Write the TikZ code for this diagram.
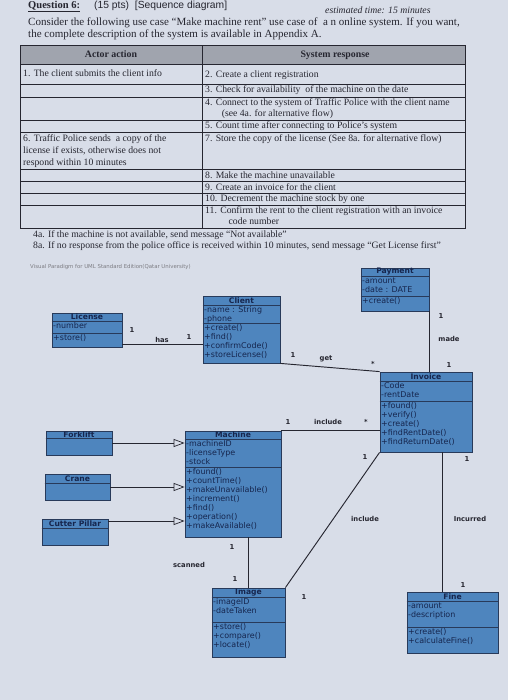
\documentclass[tikz,border=0pt]{standalone}
\usepackage{fontspec}
\setmainfont{Liberation Serif}
\newfontfamily\umlfont{DejaVu Sans}
\newfontfamily\headsans{Liberation Sans}
\usetikzlibrary{arrows.meta,fit,calc}

\definecolor{PaperColor}{RGB}{216,221,232}
\definecolor{HeadGray}{RGB}{160,164,174}
\definecolor{ClassFill}{RGB}{78,133,190}
\definecolor{ClassEdge}{RGB}{40,58,90}
\definecolor{ClassInk}{RGB}{22,38,78}
\definecolor{InkGray}{RGB}{38,38,48}

\tikzset{
  classbox/.style={draw=ClassEdge, fill=ClassFill, line width=0.7pt, inner sep=0pt},
  classline/.style={draw=ClassEdge, line width=0.6pt},
  classtitle/.style={font=\umlfont\bfseries\fontsize{6.5}{7}\selectfont, text=ClassInk, inner sep=0pt},
  classtext/.style={font=\umlfont\fontsize{6.8}{7.6}\selectfont, text=ClassInk, align=left, inner sep=1.2pt},
  assoc/.style={draw=InkGray, line width=0.8pt},
  genarrow/.style={draw=InkGray, line width=0.6pt, -{Triangle[open, length=0.33cm, width=0.24cm]}},
  assoclabel/.style={font=\umlfont\bfseries\fontsize{5.8}{6}\selectfont, text=InkGray, inner sep=0pt},
  tablerule/.style={draw=InkGray, line width=0.5pt},
  celltext/.style={font=\fontsize{8.3}{9.2}\selectfont, text=InkGray, anchor=west, inner sep=0pt},
  cellblock/.style={celltext, anchor=north west, align=left},
}

% name, corner, corner, header line, attribute line, title, attributes, operations
\newcommand{\umlclass}[8]{%
  \node[classbox, fit={(#2) (#3)}] (#1) {};
  \draw[classline] (#1.west |- 0,#4) -- (#1.east |- 0,#4);
  \draw[classline] (#1.west |- 0,#5) -- (#1.east |- 0,#5);
  \node[classtitle] (#1-t) at ($(#1.north)!0.5!(#1.north |- 0,#4)$) {#6};
  \node[classtext, anchor=north west] (#1-a) at (#1.west |- 0,#4) {#7};
  \node[classtext, anchor=north west] (#1-o) at (#1.west |- 0,#5) {#8};
}

\begin{document}
\begin{tikzpicture}[x=0.03cm, y=-0.03cm]

	% Paper

	\fill[PaperColor] (0,0) rectangle (508,700);
	\useasboundingbox (0,0) rectangle (508,700);

	% Question text

	\node[anchor=base west, font=\bfseries\fontsize{9}{10}\selectfont, text=InkGray, inner sep=0pt] (qnum) at (28,8) {\underline{Question 6:}};
	\node[anchor=base west, font=\headsans\fontsize{8.8}{10}\selectfont, text=InkGray, inner sep=0pt] (qpts) at (94,8) {(15 pts)\ \ [Sequence diagram]};
	\node[anchor=base west, font=\itshape\fontsize{8.3}{10}\selectfont, text=InkGray, inner sep=0pt] (qtime) at (325,13.5) {estimated time: 15 minutes};
	\node[anchor=base west, font=\fontsize{9.4}{10}\selectfont, text=InkGray, inner sep=0pt] (qline1) at (28,25) {Consider the following use case ``Make machine rent'' use case of\ \ a n online system. If you want,};
	\node[anchor=base west, font=\fontsize{9.4}{10}\selectfont, text=InkGray, inner sep=0pt] (qline2) at (28,37) {the complete description of the system is available in Appendix A.};

	% Use case table

	\fill[HeadGray] (20,45) rectangle (465,64);
	\foreach \ry in {64,84,97,120,132,169,181.5,193.5,205}
		\draw[tablerule] (20,\ry) -- (465,\ry);
	\draw[tablerule] (20,45) rectangle (465,228);
	\draw[tablerule] (202,45) -- (202,228);

	\node[celltext, anchor=center, font=\bfseries\fontsize{8.4}{9}\selectfont] (hactor) at (111,54.5) {Actor action};
	\node[celltext, anchor=center, font=\bfseries\fontsize{8.4}{9}\selectfont] (hsystem) at (335,55) {System response};

	\node[celltext] (act1) at (23,73) {1. The client submits the client info};
	\node[celltext] (sys2) at (205,75) {2. Create a client registration};
	\node[celltext] (sys3) at (205,90.5) {3. Check for availability\ \ of the machine on the date};
	\node[cellblock] (sys4) at (205,98.5) {4. Connect to the system of Traffic Police with the client name\\\hspace{1.7em}(see 4a. for alternative flow)};
	\node[celltext] (sys5) at (205,126) {5. Count time after connecting to Police's system};
	\node[cellblock, font=\fontsize{8.3}{10.5}\selectfont] (act6) at (23,134) {6. Traffic Police sends\ \ a copy of the\\license if exists, otherwise does not\\respond within 10 minutes};
	\node[cellblock] (sys7) at (205,134) {7. Store the copy of the license (See 8a. for alternative flow)};
	\node[celltext] (sys8) at (205,175.3) {8. Make the machine unavailable};
	\node[celltext] (sys9) at (205,187.5) {9. Create an invoice for the client};
	\node[celltext] (sys10) at (205,199.3) {10. Decrement the machine stock by one};
	\node[cellblock] (sys11) at (205,206.5) {11. Confirm the rent to the client registration with an invoice\\\hspace{2.4em}code number};

	\node[celltext] (alt4a) at (33,235) {4a. If the machine is not available, send message ``Not available''};
	\node[celltext] (alt8a) at (33,246.5) {8a. If no response from the police office is received within 10 minutes, send message ``Get License first''};

	% Class diagram

	\node[anchor=west, font=\umlfont\fontsize{4.6}{5}\selectfont, text=InkGray!60, inner sep=0pt] (vpnote) at (30,267) {Visual Paradigm for UML Standard Edition(Qatar University)};

	\umlclass{payment}{361,268}{429,311}{276}{296}{Payment}{-amount\\-date : DATE}{+create()}
	\umlclass{client}{203,296}{280,363}{305}{323}{Client}{-name : String\\-phone}{+create()\\+find()\\+confirmCode()\\+storeLicense()}
	\umlclass{license}{52,313}{122,347}{321}{333}{License}{-number}{+store()}
	\umlclass{invoice}{380,372}{472,452}{381}{401}{Invoice}{-Code\\-rentDate}{+found()\\+verify()\\+create()\\+findRentDate()\\+findReturnDate()}
	\umlclass{machine}{185,431}{281,537}{439}{467}{Machine}{-machineID\\-licenseType\\-stock}{+found()\\+countTime()\\+makeUnavailable()\\+increment()\\+find()\\+operation()\\+makeAvailable()}
	\umlclass{forklift}{46,431}{112,455}{438}{438}{Forklift}{}{}
	\umlclass{crane}{45,474}{110,500}{483}{483}{Crane}{}{}
	\umlclass{cutter}{42,519}{108,545}{528}{528}{Cutter Pillar}{}{}
	\umlclass{image}{212,588}{285,657}{597}{622}{Image}{-imageID\\-dateTaken}{+store()\\+compare()\\+locate()}
	\umlclass{fine}{407,592}{498,653}{601}{627}{Fine}{-amount\\-description}{+create()\\+calculateFine()}

	% Associations

	\draw[assoc] (license.east |- 0,344) -- (client.west |- 0,344);
	\node[assoclabel] (m-lic) at (132,330) {1};
	\node[assoclabel, anchor=south] (has) at (162,343) {has};
	\node[assoclabel] (m-cli) at (189,337) {1};

	\draw[assoc] (client.south east) -- (invoice.north west);
	\node[assoclabel] (m-cli2) at (293,355) {1};
	\node[assoclabel] (get) at (326,359) {get};
	\node[assoclabel] (m-inv) at (373,364) {*};

	\draw[assoc] (payment.south east) -- (payment.south east |- invoice.north);
	\node[assoclabel] (m-pay) at (441,316) {1};
	\node[assoclabel] (made) at (449,339) {made};
	\node[assoclabel] (m-inv2) at (449,365) {1};

	\draw[assoc] (machine.north east) -- (machine.north east -| invoice.west);
	\node[assoclabel] (m-mac) at (288,422) {1};
	\node[assoclabel] (incl1) at (328,422) {include};
	\node[assoclabel] (m-inv3) at (366,422) {*};

	\draw[assoc] (invoice.south west) -- (image.north east);
	\node[assoclabel] (m-inv4) at (365,457) {1};
	\node[assoclabel] (incl2) at (365,519) {include};
	\node[assoclabel] (m-img) at (304,597) {1};

	\draw[assoc] (invoice.south -| 442,0) -- (fine.north -| 442,0);
	\node[assoclabel] (m-inv5) at (467,459) {1};
	\node[assoclabel] (incur) at (470,519) {Incurred};
	\node[assoclabel] (m-fin) at (463,585) {1};

	\draw[assoc] (machine.south -| image.north) -- (image.north);
	\node[assoclabel] (m-mac2) at (232,547) {1};
	\node[assoclabel] (scan) at (189,565) {scanned};
	\node[assoclabel] (m-img2) at (235,579) {1};

	% Generalizations

	\draw[genarrow] (forklift.east) -- (forklift.east -| machine.west);
	\draw[genarrow] (crane.east) -- (crane.east -| machine.west);
	\draw[genarrow] (cutter.east |- 0,521) -- (machine.west |- 0,521);

\end{tikzpicture}
\end{document}
